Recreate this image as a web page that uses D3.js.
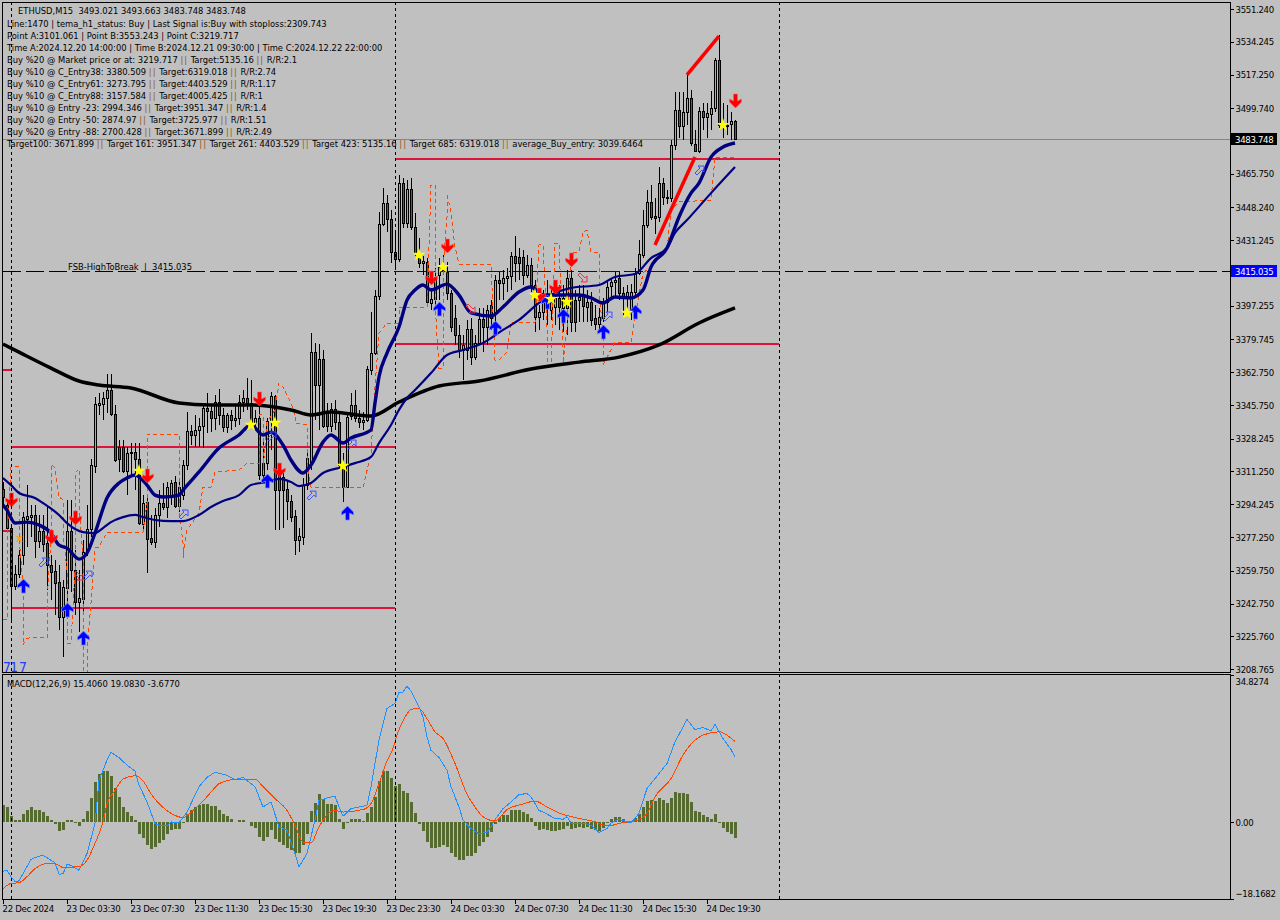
<!DOCTYPE html>
<html>
<head>
<meta charset="utf-8">
<title>ETHUSD,M15</title>
<script src="https://cdn.jsdelivr.net/npm/d3@7"></script>
<style>
  html, body { margin: 0; padding: 0; background: #c0c0c0; }
  svg { display: block; }
  text { font-family: "DejaVu Sans Condensed", "DejaVu Sans", sans-serif; font-size: 9.3px; fill: #000; }
  .axis path { display: none; }
  .axis line { stroke: #000; shape-rendering: crispEdges; }
  .axis text, .tag { font-size: 9.5px; letter-spacing: -0.3px; }
  .axis text { fill: #000; }
</style>
</head>
<body>
<div id="chart"></div>
<script>
// Candles, one entry per M15 bar (index 0 = 22 Dec 2024)
const opens = [
  3302.2,3293.9,3281.9,3251.8,3258.0,3267.9,3286.6,3287.6,3288.7,3275.2,
  3280.4,3274.1,3262.7,3259.6,3253.9,3235.7,3250.8,3280.4,3260.1,3243.5,
  3245.1,3269.5,3281.4,3314.1,3345.8,3346.3,3349.4,3353.5,3341.1,3324.0,
  3324.0,3311.5,3321.4,3321.4,3317.7,3284.0,3295.4,3276.7,3274.6,3288.7,
  3294.9,3292.8,3298.0,3305.8,3293.3,3299.0,3314.6,3332.3,3330.2,3332.8,
  3334.8,3344.2,3342.6,3339.0,3347.3,3340.6,3334.3,3340.6,3338.0,3339.0,
  3347.3,3349.4,3346.8,3336.4,3339.0,3309.4,3315.6,3337.4,3350.4,3309.4,
  3308.4,3302.2,3295.9,3288.1,3275.7,3277.2,3304.2,3316.2,3373.2,3356.1,
  3369.6,3341.6,3334.8,3343.7,3336.9,3314.6,3303.2,3340.0,3345.8,3339.0,
  3336.9,3338.0,3363.9,3372.7,3402.3,3439.7,3450.6,3442.3,3425.1,3421.5,
  3460.9,3440.2,3457.8,3438.1,3424.6,3419.4,3419.9,3398.7,3400.7,3413.2,
  3415.8,3414.8,3403.9,3390.9,3382.1,3374.3,3374.3,3385.2,3370.6,3377.9,
  3390.4,3386.2,3397.6,3393.5,3410.6,3409.0,3411.6,3412.7,3423.1,3422.5,
  3422.5,3413.2,3418.4,3408.0,3391.4,3394.0,3402.8,3395.0,3396.6,3401.3,
  3396.1,3396.1,3411.6,3400.2,3400.2,3402.3,3396.6,3399.2,3390.9,3387.8,
  3390.9,3399.2,3407.5,3409.6,3411.6,3403.9,3401.8,3395.0,3404.4,3414.2,
  3423.6,3439.1,3451.1,3443.8,3443.3,3460.9,3453.2,3453.2,3480.7,3498.8,
  3490.5,3497.8,3505.0,3481.2,3477.5,3498.3,3495.2,3496.7,3499.9,3524.8,
  3491.0,3491.0,3491.6,3493.021
];
const highs = [
  3305.8,3296.5,3283.5,3262.7,3270.5,3290.2,3304.2,3293.9,3293.9,3288.7,
  3288.7,3293.9,3267.9,3265.3,3262.7,3254.9,3296.5,3296.5,3270.5,3260.1,
  3275.7,3293.9,3317.7,3349.9,3352.0,3352.5,3361.8,3361.8,3345.8,3327.6,
  3327.6,3324.0,3326.0,3326.0,3326.0,3299.0,3299.0,3288.7,3292.3,3301.6,
  3305.3,3305.8,3306.8,3308.9,3306.8,3317.2,3342.1,3335.4,3340.6,3339.0,
  3345.8,3352.0,3345.8,3351.0,3354.0,3344.2,3341.6,3343.2,3345.8,3351.0,
  3353.5,3359.8,3358.7,3343.2,3348.3,3327.6,3339.0,3352.5,3351.0,3314.6,
  3312.0,3306.8,3299.0,3291.3,3281.9,3307.9,3321.4,3383.1,3377.9,3377.4,
  3374.3,3346.8,3346.8,3348.3,3342.1,3320.8,3342.1,3352.0,3353.5,3343.2,
  3342.1,3366.0,3394.0,3405.4,3445.9,3458.3,3454.7,3446.9,3435.0,3465.1,
  3463.5,3462.5,3463.5,3445.4,3432.4,3423.1,3422.0,3406.5,3416.8,3422.0,
  3423.6,3419.9,3405.4,3397.6,3387.3,3382.1,3389.9,3390.9,3382.1,3396.1,
  3396.1,3397.6,3400.2,3413.2,3414.8,3415.8,3416.8,3425.1,3433.4,3427.2,
  3426.2,3423.6,3422.0,3410.6,3397.6,3405.4,3410.6,3406.5,3408.0,3408.0,
  3408.0,3415.8,3415.8,3405.4,3408.0,3408.0,3405.4,3404.4,3397.6,3396.1,
  3401.3,3409.6,3411.6,3414.8,3414.8,3407.0,3408.0,3408.5,3416.8,3431.4,
  3446.9,3457.3,3459.9,3453.2,3469.2,3463.5,3457.3,3483.2,3508.2,3508.2,
  3508.2,3517.0,3509.2,3488.4,3500.4,3502.4,3502.4,3508.7,3525.8,3537.7,
  3502.4,3501.4,3497.8,3493.663
];
const lows = [
  3293.9,3279.3,3233.2,3249.8,3256.0,3262.7,3272.1,3277.2,3266.4,3271.5,
  3269.5,3249.8,3244.6,3236.8,3229.0,3215.0,3235.7,3248.7,3236.8,3227.9,
  3236.8,3267.4,3277.2,3310.5,3340.6,3338.0,3341.6,3340.0,3316.2,3311.0,
  3310.5,3299.0,3309.4,3301.6,3283.5,3280.9,3258.6,3273.1,3271.5,3282.4,
  3291.3,3287.1,3293.9,3292.3,3290.2,3296.5,3312.0,3325.0,3324.0,3324.0,
  3323.4,3331.2,3331.7,3332.8,3335.4,3331.7,3331.2,3332.8,3334.3,3335.4,
  3342.1,3343.2,3333.8,3332.8,3306.8,3305.8,3312.0,3322.4,3280.9,3280.9,
  3281.9,3286.1,3285.0,3267.9,3269.5,3273.1,3301.6,3312.0,3338.0,3332.8,
  3333.8,3331.7,3331.7,3332.8,3313.1,3295.4,3302.7,3338.0,3336.9,3333.8,
  3332.8,3336.9,3361.3,3371.7,3400.2,3438.6,3435.5,3419.4,3415.8,3419.9,
  3437.6,3437.6,3436.6,3423.1,3416.8,3413.2,3397.6,3395.0,3395.0,3400.2,
  3413.2,3400.2,3383.6,3376.9,3370.1,3358.7,3369.1,3366.5,3369.1,3376.9,
  3373.2,3376.9,3384.7,3385.7,3400.2,3400.2,3404.4,3405.4,3409.6,3410.6,
  3408.0,3411.6,3404.4,3383.6,3384.7,3389.9,3387.3,3389.9,3387.3,3384.7,
  3383.6,3382.1,3383.6,3383.6,3388.8,3388.8,3388.8,3386.7,3384.7,3384.7,
  3388.8,3394.0,3401.3,3402.3,3400.2,3392.4,3394.0,3389.9,3401.3,3413.2,
  3422.0,3437.6,3441.7,3434.5,3440.7,3449.5,3450.1,3451.1,3478.1,3484.3,
  3483.2,3491.0,3480.1,3477.0,3476.5,3488.4,3484.3,3488.4,3497.8,3489.5,
  3484.3,3485.8,3483.2,3483.748
];
const closes = [
  3298.0,3281.9,3251.8,3258.0,3267.9,3287.6,3288.1,3288.7,3275.2,3280.4,
  3273.6,3262.7,3259.1,3253.4,3235.7,3251.3,3280.4,3260.1,3243.5,3245.6,
  3269.5,3281.4,3314.6,3346.3,3346.8,3349.4,3353.5,3341.1,3317.2,3317.7,
  3311.5,3320.8,3320.8,3317.7,3284.5,3294.9,3276.2,3274.6,3288.7,3294.9,
  3292.8,3303.2,3305.3,3293.3,3303.2,3314.6,3332.3,3330.2,3332.8,3334.8,
  3344.2,3342.6,3339.0,3347.3,3340.6,3334.3,3340.6,3338.0,3339.0,3347.3,
  3349.4,3346.8,3336.4,3339.0,3309.4,3315.6,3337.4,3350.4,3301.6,3301.6,
  3301.6,3295.9,3287.6,3275.7,3277.8,3304.2,3318.2,3373.2,3356.1,3369.6,
  3334.8,3334.8,3343.7,3336.9,3314.6,3303.2,3339.5,3345.8,3339.0,3336.9,
  3338.0,3364.4,3372.7,3402.3,3439.7,3450.6,3442.3,3425.1,3421.5,3460.9,
  3440.2,3457.8,3438.1,3424.6,3419.4,3420.5,3399.2,3400.7,3412.2,3417.3,
  3417.3,3403.9,3386.2,3382.1,3374.3,3376.9,3385.2,3370.6,3377.9,3390.4,
  3386.2,3395.0,3390.9,3410.6,3409.0,3411.6,3412.7,3423.1,3419.4,3419.4,
  3413.2,3418.4,3408.0,3391.4,3394.0,3400.2,3399.2,3402.3,3401.3,3396.6,
  3401.3,3411.6,3388.8,3388.8,3401.8,3397.1,3399.2,3389.9,3387.8,3391.4,
  3399.2,3407.0,3409.6,3410.6,3403.9,3401.8,3404.4,3404.4,3414.2,3424.1,
  3439.1,3451.1,3443.3,3442.8,3460.9,3453.7,3453.7,3480.7,3498.8,3490.5,
  3497.8,3505.0,3481.7,3477.5,3498.3,3495.2,3497.3,3499.9,3524.8,3491.0,
  3490.0,3490.5,3493.1,3483.748
];

// Moving averages: bar index + price
const slowMaBars = [0,4,12,19,24,32,44,52,62,72,77,82,92,99,109,119,132,144,154,164,174,183];
const slowMaVals = [3377.4,3373.2,3364.9,3358.2,3356.1,3354.6,3346.8,3345.8,3345.8,3343.2,3340.6,3342.1,3340.0,3347.3,3355.6,3358.2,3364.4,3368.0,3370.6,3376.9,3388.3,3396.1];

const fastBars = [0,1,3,6,9,12,14,16,19,21,23,26,29,31,33,36,38,40,44,45,49,54,59,62,65,67,70,72,75,77,80,82,85,87,92,93,94,96,99,101,103,105,107,111,114,117,122,125,129,132,135,139,144,147,150,153,157,160,162,166,169,172,174,177,180,183];
const fastVals = [3293.9,3291.2,3284.5,3285.0,3283.5,3279.3,3273.1,3271.5,3265.8,3268.9,3279.3,3297.5,3305.3,3307.9,3309.4,3304.2,3299.0,3298.0,3299.0,3301.6,3311.0,3323.4,3330.2,3335.4,3330.2,3331.7,3325.0,3317.2,3310.5,3314.6,3326.5,3330.2,3326.0,3328.6,3332.8,3346.8,3360.3,3372.7,3386.2,3400.2,3405.4,3408.0,3405.4,3408.5,3402.8,3393.5,3391.9,3396.6,3404.4,3407.0,3402.8,3402.8,3402.8,3401.3,3398.7,3401.8,3401.3,3405.4,3417.3,3427.2,3443.3,3455.7,3460.9,3474.4,3479.6,3481.7];

const midBars = [0,2,4,8,10,14,16,20,23,25,27,30,33,35,38,42,45,49,52,55,59,62,66,69,72,74,77,80,85,88,92,94,97,99,101,103,107,111,115,120,125,129,134,137,142,149,153,158,162,166,168,171,177,183];
const midVals = [3307.9,3304.2,3300.1,3297.5,3294.9,3288.7,3284.5,3279.8,3279.3,3281.9,3285.0,3287.6,3288.7,3287.6,3286.1,3285.5,3285.5,3288.7,3292.8,3295.9,3299.0,3304.2,3305.8,3307.4,3305.8,3303.7,3305.3,3310.5,3313.6,3315.6,3318.8,3326.0,3335.4,3343.2,3349.4,3353.5,3362.3,3371.7,3374.3,3377.9,3384.7,3389.9,3398.7,3402.8,3406.5,3408.0,3412.2,3413.7,3422.0,3427.2,3435.0,3441.7,3455.7,3469.2];

// Orange stepped channel
const stepBars = [0,1,1,2,4,4,4,5,5,5,6,11,11,12,12,13,14,15,15,16,16,17,18,18,19,19,20,20,20,21,21,22,23,24,26,35,36,36,44,44,45,45,46,49,50,52,53,59,61,64,64,65,65,66,68,69,70,72,73,73,76,76,77,90,92,93,94,96,99,99,106,107,108,108,109,110,110,111,111,112,113,114,122,123,124,126,127,133,134,135,136,136,137,138,139,140,140,141,142,144,145,146,147,149,149,150,150,153,157,158,160,163,166,167,169,177,178,183];
const stepVals = [3234.2,3234.2,3277.2,3313.6,3313.6,3305.3,3277.2,3253.4,3235.7,3221.2,3224.8,3225.3,3243.0,3277.2,3315.1,3313.1,3298.0,3296.5,3279.3,3260.1,3222.2,3222.2,3260.1,3310.5,3312.5,3294.9,3266.9,3246.1,3207.2,3207.2,3217.1,3243.0,3271.5,3272.1,3279.8,3279.8,3294.9,3330.7,3330.7,3291.3,3274.1,3266.4,3280.9,3289.7,3303.2,3303.2,3311.0,3312.0,3315.6,3315.6,3340.6,3340.6,3312.0,3336.9,3343.2,3357.2,3355.1,3346.8,3340.6,3336.4,3335.4,3315.6,3303.2,3302.7,3320.8,3355.1,3383.1,3388.3,3388.3,3396.6,3396.6,3459.9,3459.9,3398.7,3364.9,3364.9,3415.8,3443.3,3455.7,3445.4,3427.7,3418.9,3418.9,3369.1,3369.1,3373.2,3388.8,3388.8,3428.8,3428.8,3384.7,3366.5,3366.5,3429.8,3429.8,3375.8,3367.5,3386.2,3425.1,3425.1,3435.5,3436.6,3425.1,3425.1,3407.0,3381.0,3366.5,3378.4,3378.4,3391.4,3414.2,3419.4,3426.2,3446.9,3451.1,3452.1,3474.4,3474.4];

// Horizontal levels
const levelPrices = [3240.2,3324.0,3377.4,3473.4];
const levelStartBars = [2,2,98,98];
const levelEndBars = [98,98,194,194];
const fsbLevel = 3415.035;
const lastPrice = 3483.748;

// Signal markers: bar index + price
const downBars = [2,12,18,36,64,69,107,111,134,138,142,183];
const downVals = [3296.5,3277.2,3287.1,3308.9,3348.9,3312.0,3411.6,3428.2,3402.8,3407.0,3421.0,3503.5];
const upBars = [5,16,20,66,86,109,123,136,140,150,158];
const upVals = [3251.8,3239.4,3224.8,3306.3,3289.7,3395.6,3385.7,3399.2,3391.9,3383.6,3394.0];
const starBars = [34,62,68,85,104,110,133,137,141,156,180];
const starVals = [3311.5,3335.4,3336.4,3314.1,3423.6,3417.3,3402.8,3400.7,3399.2,3393.5,3491.0];
const hollowUpBars = [10,21,45,67,77,87,151,174];
const hollowUpVals = [3264.3,3257.5,3289.2,3329.7,3299.0,3325.5,3391.9,3467.7];
const hollowDownBars = [19,117,145];
const hollowDownVals = [3257.5,3396.1,3412.2];
// Red trend strokes [bar, price] pairs
const trendBars = [[171,179],[163,173]];
const trendVals = [[3517.0,3537.2],[3428.8,3474.4]];

// MACD histogram, one per bar
const histogram = [
  4.0,3.5,1.5,0.5,0.5,1.9,2.8,3.5,2.8,2.8,2.3,1.4,0.6,-0.4,-2.1,-1.9,0.5,0.5,-0.2,-0.9,
  0.7,2.6,5.7,9.4,11.3,12.2,12.2,10.9,8.0,6.0,3.6,2.4,1.4,0.5,-2.7,-3.8,-5.4,-6.4,-5.8,-5.0,
  -4.1,-2.7,-1.9,-1.7,-1.7,-0.2,1.9,2.8,3.5,4.1,4.3,4.3,3.8,3.8,2.8,1.9,1.4,0.8,0.1,0.5,
  0.5,0.1,-0.8,-1.3,-3.5,-4.5,-3.5,-1.9,-4.0,-4.6,-5.4,-6.0,-6.5,-7.2,-7.2,-5.4,-2.8,2.6,4.6,6.6,
  5.6,4.4,4.4,4.0,0.7,-1.7,-0.2,0.7,0.7,0.7,0.3,2.2,3.5,6.0,9.7,12.0,12.0,10.4,8.6,9.0,
  7.3,6.8,4.8,2.2,-0.5,-2.1,-4.8,-6.1,-6.1,-5.8,-5.4,-5.8,-7.2,-8.3,-9.0,-9.0,-8.0,-8.0,-7.2,-5.6,
  -4.7,-3.5,-2.4,-0.5,1.0,1.7,1.8,2.8,3.0,3.0,2.3,1.9,0.9,-0.9,-1.9,-1.6,-1.9,-2.0,-2.0,-1.9,
  -1.7,-0.9,-1.6,-1.4,-1.1,-1.3,-1.1,-1.6,-1.9,-2.0,-1.3,-0.2,0.7,1.2,1.2,0.7,0.3,0.1,0.9,1.9,
  3.5,5.0,5.2,5.0,5.7,5.2,4.6,5.7,7.1,6.9,6.9,6.6,4.7,2.6,2.4,1.7,1.2,0.7,1.9,-0.2,
  -1.3,-2.2,-2.8,-3.677
];
const macdBars = [0,1,2,3,4,5,7,8,10,11,13,14,15,16,17,19,21,23,24,26,27,29,31,33,34,36,38,39,41,42,44,46,48,49,51,53,56,58,60,63,65,67,69,71,73,74,76,78,79,83,84,85,87,91,92,94,96,98,99,100,101,102,104,105,106,107,109,111,112,114,115,117,119,121,122,123,125,127,129,131,132,134,135,138,140,141,142,145,147,149,151,152,154,157,159,161,163,166,168,171,173,175,177,178,180,182,183];
const macdVals = [-11.6,-11.4,-12.9,-14.0,-13.9,-12.2,-8.8,-8.4,-7.8,-8.4,-9.6,-12.3,-12.2,-10.0,-10.2,-11.4,-7.4,-0.3,9.9,14.7,16.5,15.3,13.5,12.1,8.8,4.8,-0.3,-0.7,-0.9,0.1,-0.2,2.4,6.4,8.4,10.6,11.8,11.1,10.1,10.6,8.4,3.6,4.8,-1.1,-1.9,-7.4,-10.6,-7.4,0.5,5.2,6.2,3.6,1.4,3.2,4.0,8.4,19.4,26.9,28.1,30.8,30.8,32.2,31.0,27.3,24.9,20.2,17.0,15.3,12.3,8.4,3.6,0.5,-1.5,-2.8,-2.3,-1.1,0.6,3.2,4.8,6.5,6.8,6.0,2.8,2.4,0.9,0.7,1.3,-0.2,-0.2,-0.7,-2.4,-1.5,-0.2,0.7,-0.2,2.1,8.0,10.3,13.9,19.0,24.3,21.9,22.4,21.6,23.1,19.8,17.2,15.406];
const signalBars = [0,2,4,6,8,11,13,15,19,21,23,25,26,28,30,33,35,37,40,42,45,47,49,52,54,58,63,65,68,71,73,75,77,79,81,83,85,90,92,94,96,97,99,101,102,104,106,108,110,113,116,118,120,123,126,130,133,136,139,144,148,151,155,158,161,163,167,170,173,175,179,181,183];
const signalVals = [-15.7,-14.5,-14.3,-12.9,-11.0,-9.8,-9.8,-10.7,-10.5,-9.0,-5.0,0.1,4.3,7.5,10.2,11.0,9.8,6.7,3.5,2.1,1.1,2.4,4.0,7.1,9.1,10.1,10.2,8.4,5.6,2.8,-0.7,-4.7,-4.9,-1.1,1.7,2.8,2.4,3.0,4.4,9.1,14.5,16.3,21.9,25.6,26.7,26.9,24.5,21.4,19.8,13.9,6.6,3.6,1.3,0.3,3.0,4.3,5.0,3.6,2.2,0.9,0.1,-0.9,-0.1,0.3,2.1,6.0,10.3,15.9,19.4,20.6,21.4,20.6,19.083];

// Axis labels
const priceTicks = [3551.24,3534.245,3517.25,3499.74,3482.745,3465.75,3448.24,3431.245,3414.25,3397.255,3379.745,3362.75,3345.75,3328.245,3311.25,3294.245,3277.25,3259.75,3242.75,3225.76,3208.765];
const timeTickBars = [0,16,32,48,64,80,96,112,128,144,160,176];
const timeTickLabels = ['22 Dec 2024','23 Dec 03:30','23 Dec 07:30','23 Dec 11:30','23 Dec 15:30','23 Dec 19:30','23 Dec 23:30','24 Dec 03:30','24 Dec 07:30','24 Dec 11:30','24 Dec 15:30','24 Dec 19:30'];
const macdTicks = [34.8274,0,-18.1682];
const sessionBars = [2,98,194];

const infoLines = [
  'ETHUSD,M15  3493.021 3493.663 3483.748 3483.748',
  'Line:1470 | tema_h1_status: Buy | Last Signal is:Buy with stoploss:2309.743',
  'Point A:3101.061 | Point B:3553.243 | Point C:3219.717',
  'Time A:2024.12.20 14:00:00 | Time B:2024.12.21 09:30:00 | Time C:2024.12.22 22:00:00',
  'Buy %20 @ Market price or at: 3219.717 || Target:5135.16 || R/R:2.1',
  'Buy %10 @ C_Entry38: 3380.509 || Target:6319.018 || R/R:2.74',
  'Buy %10 @ C_Entry61: 3273.795 || Target:4403.529 || R/R:1.17',
  'Buy %10 @ C_Entry88: 3157.584 || Target:4005.425 || R/R:1',
  'Buy %10 @ Entry -23: 2994.346 || Target:3951.347 || R/R:1.4',
  'Buy %20 @ Entry -50: 2874.97 || Target:3725.977 || R/R:1.51',
  'Buy %20 @ Entry -88: 2700.428 || Target:3671.899 || R/R:2.49',
  'Target100: 3671.899 || Target 161: 3951.347 || Target 261: 4403.529 || Target 423: 5135.16 || Target 685: 6319.018 || average_Buy_entry: 3039.6464'
];

const width = 1280, height = 920;
const frameRight = 1230;
const mainTop = 2, mainBottom = 672, macdTop = 675, macdBottom = 899;

const svg = d3.select('#chart').append('svg').attr('width', width).attr('height', height);

const x = d3.scaleLinear().domain([0, 183]).range([3, 735]);
const y = d3.scaleLinear().domain([3208.765, 3551.24]).range([669, 9]);
const yMacd = d3.scaleLinear().domain([-18.1682, 34.8274]).range([macdBottom, macdTop]);

svg.append('defs').append('clipPath').attr('id', 'mainClip').append('rect')
    .attr('x', 3).attr('y', mainTop + 1).attr('width', frameRight - 3).attr('height', mainBottom - mainTop - 1);

const main = svg.append('g').attr('clip-path', 'url(#mainClip)');
const crisp = sel => sel.attr('shape-rendering', 'crispEdges');

// Levels under the candles
main.append('line').call(crisp)
    .attr('x1', 3).attr('x2', frameRight).attr('y1', y(lastPrice)).attr('y2', y(lastPrice))
    .attr('stroke', '#778899');
main.append('line').call(crisp)
    .attr('x1', 3).attr('x2', frameRight).attr('y1', y(fsbLevel)).attr('y2', y(fsbLevel))
    .attr('stroke', '#000').attr('stroke-dasharray', '18,5');
main.append('line').call(crisp)
    .attr('x1', 395).attr('x2', 779).attr('y1', y(fsbLevel)).attr('y2', y(fsbLevel))
    .attr('stroke', '#0000cd').attr('stroke-dasharray', '18,5');

main.selectAll('.level').data(levelPrices).join('line').call(crisp)
    .attr('class', 'level')
    .attr('x1', (d, i) => x(levelStartBars[i])).attr('x2', (d, i) => x(levelEndBars[i]))
    .attr('y1', d => y(d)).attr('y2', d => y(d))
    .attr('stroke', '#dc143c').attr('stroke-width', 2);
// the short stubs left of the first session line
main.selectAll('.stub').data([3364.0, 3280.4]).join('line').call(crisp)
    .attr('class', 'stub')
    .attr('x1', x(0)).attr('x2', x(2)).attr('y1', d => y(d)).attr('y2', d => y(d))
    .attr('stroke', '#dc143c').attr('stroke-width', 2);

// Candles: wick, black body, coloured core
const bars = d3.range(opens.length);
const bodyTop = d => Math.round(y(Math.max(opens[d], closes[d])));
const bodyHeight = d => Math.max(1, Math.round(Math.abs(y(opens[d]) - y(closes[d]))) + 1);
main.selectAll('.wick').data(bars).join('rect').call(crisp)
    .attr('class', 'wick')
    .attr('x', d => x(d)).attr('width', 1)
    .attr('y', d => y(highs[d])).attr('height', d => y(lows[d]) - y(highs[d]))
    .attr('fill', '#000');
main.selectAll('.body').data(bars).join('rect').call(crisp)
    .attr('class', 'body')
    .attr('x', d => x(d) - 1).attr('width', 3)
    .attr('y', bodyTop).attr('height', bodyHeight)
    .attr('fill', '#000');
main.selectAll('.core').data(bars.filter(d => bodyHeight(d) > 2)).join('rect').call(crisp)
    .attr('class', 'core')
    .attr('x', d => x(d)).attr('width', 1)
    .attr('y', d => bodyTop(d) + 1).attr('height', d => bodyHeight(d) - 2)
    .attr('fill', d => closes[d] >= opens[d] ? '#2bf08f' : '#e8183f');

// Indicator lines
const priceLine = d3.line().x(d => x(d[0])).y(d => y(d[1]));
const smoothLine = d3.line().x(d => x(d[0])).y(d => y(d[1])).curve(d3.curveMonotoneX);
const zipped = (a, b) => a.map((v, i) => [v, b[i]]);
main.append('path').call(crisp).attr('d', priceLine(zipped(stepBars, stepVals)))
    .attr('fill', 'none').attr('stroke', '#ff4500').attr('stroke-dasharray', '4,3');
main.append('path').attr('d', smoothLine(zipped(slowMaBars, slowMaVals)))
    .attr('fill', 'none').attr('stroke', '#000').attr('stroke-width', 3.5);
main.append('path').attr('d', smoothLine(zipped(midBars, midVals)))
    .attr('fill', 'none').attr('stroke', '#000080').attr('stroke-width', 2.2);
main.append('path').attr('d', smoothLine(zipped(fastBars, fastVals)))
    .attr('fill', 'none').attr('stroke', '#000080').attr('stroke-width', 3.4);

// Red trend strokes
main.selectAll('.trend').data(trendBars).join('line')
    .attr('class', 'trend')
    .attr('x1', d => x(d[0])).attr('x2', d => x(d[1]))
    .attr('y1', (d, i) => y(trendVals[i][0])).attr('y2', (d, i) => y(trendVals[i][1]))
    .attr('stroke', '#ff0000').attr('stroke-width', 3.5);

// Markers
const arrowDown = 'M-2,-7H2V0L6,-2V1L0,7L-6,1V-2L-2,0Z';
const arrowUp = 'M-2,7H2V0L6,2V-1L0,-7L-6,-1V2L-2,0Z';
const hollow = 'M-4,3L1,-2L-1,-4H5V2L3,0L-2,5Z';

main.selectAll('.down').data(downBars).join('path').attr('class', 'down')
    .attr('transform', (d, i) => `translate(${x(d) + 0.5},${y(downVals[i])})`)
    .attr('d', arrowDown).attr('fill', '#ff0000').attr('stroke', '#ff6060').attr('stroke-width', 0.6);
main.selectAll('.up').data(upBars).join('path').attr('class', 'up')
    .attr('transform', (d, i) => `translate(${x(d) + 0.5},${y(upVals[i])})`)
    .attr('d', arrowUp).attr('fill', '#0000ff').attr('stroke', '#6a8cff').attr('stroke-width', 0.8);
main.selectAll('.hollowUp').data(hollowUpBars).join('path').attr('class', 'hollowUp')
    .attr('transform', (d, i) => `translate(${x(d)},${y(hollowUpVals[i])})`)
    .attr('d', hollow).attr('fill', 'none').attr('stroke', '#3a50ff');
main.selectAll('.hollowDown').data(hollowDownBars).join('path').attr('class', 'hollowDown')
    .attr('transform', (d, i) => `translate(${x(d)},${y(hollowDownVals[i])}) rotate(90)`)
    .attr('d', hollow).attr('fill', 'none').attr('stroke', '#e8304a');
main.selectAll('.star').data(starBars).join('path').attr('class', 'star')
    .attr('transform', (d, i) => `translate(${x(d)},${y(starVals[i])})`)
    .attr('d', d3.symbol(d3.symbolStar, 55)).attr('fill', '#ffff00');
// orange cross near the start
main.append('text').attr('x', x(4) + 0.5).attr('y', y(3276.7) + 4)
    .attr('text-anchor', 'middle').style('fill', '#ffa500').style('font-size', '11px').style('font-weight', 'bold').text('x');

// Texts inside the main pane
const infoY = [10, 23, 35, 47, 59, 71, 83, 95, 107, 119, 131, 143];
const info = svg.append('g');
infoLines.forEach((line, i) => {
  const t = info.append('text').attr('x', i === 0 ? 18 : 7).attr('y', infoY[i] + 3.5).attr('xml:space', 'preserve');
  line.split('||').forEach((part, j) => {
    if (j > 0) t.append('tspan').style('fill', '#8a5a14').style('letter-spacing', '1px').text('||');
    t.append('tspan').text(part);
  });
});
svg.append('text').attr('x', 68).attr('y', 269.5).attr('xml:space', 'preserve').text('FSB-HighToBreak  |  3415.035');
svg.append('text').attr('x', '3 8 10 15 19').attr('y', 672).style('fill', '#1a3cff').style('font-size', '14px')
    .attr('xml:space', 'preserve').text('7 1 7');

// MACD pane
const macd = svg.append('g');
macd.selectAll('.hist').data(histogram).join('rect').call(crisp)
    .attr('class', 'hist')
    .attr('x', (d, i) => x(i) - 1).attr('width', 3)
    .attr('y', d => Math.min(yMacd(d), yMacd(0)))
    .attr('height', d => Math.abs(yMacd(d) - yMacd(0)))
    .attr('fill', '#556b2f');
const macdLine = d3.line().x(d => x(d[0])).y(d => yMacd(d[1]));
const macdSmooth = d3.line().x(d => x(d[0])).y(d => yMacd(d[1])).curve(d3.curveMonotoneX);
macd.append('path').call(crisp).attr('d', macdLine(zipped(macdBars, macdVals)))
    .attr('fill', 'none').attr('stroke', '#1e90ff');
macd.append('path').call(crisp).attr('d', macdSmooth(zipped(signalBars, signalVals)))
    .attr('fill', 'none').attr('stroke', '#ff4500');
macd.append('text').attr('x', 7).attr('y', 686.5).text('MACD(12,26,9) 15.4060 19.0830 -3.6770');

// Session separators through both panes
svg.selectAll('.session').data(sessionBars).join('line').call(crisp)
    .attr('class', 'session')
    .attr('x1', d => x(d) + 0.5).attr('x2', d => x(d) + 0.5)
    .attr('y1', mainTop).attr('y2', macdBottom)
    .attr('stroke', '#000').attr('stroke-dasharray', '3,3');

// Frame
const frame = svg.append('g').call(crisp).attr('fill', 'none').attr('stroke', '#000');
frame.append('rect').attr('x', 2.5).attr('y', mainTop + 0.5).attr('width', frameRight - 2).attr('height', mainBottom - mainTop);
frame.append('rect').attr('x', 2.5).attr('y', macdTop - 0.5).attr('width', frameRight - 2).attr('height', macdBottom - macdTop + 0.5);

// Axes
const priceAxis = d3.axisRight(y).tickValues(priceTicks).tickSize(3).tickPadding(2)
    .tickFormat(d3.format('.3f'));
svg.append('g').attr('class', 'axis').attr('transform', `translate(${frameRight + 0.5},0)`).call(priceAxis);

const macdAxis = d3.axisRight(yMacd).tickValues(macdTicks).tickSize(3).tickPadding(2)
    .tickFormat(d => d === 0 ? '0.00' : d3.format('.4f')(d));
const macdAxisG = svg.append('g').attr('class', 'axis').attr('transform', `translate(${frameRight + 0.5},0)`).call(macdAxis);
macdAxisG.selectAll('.tick text').attr('dy', d => d > 1 ? '1em' : (d < -1 ? '-0.3em' : '0.32em'));

const timeAxis = d3.axisBottom(x).tickValues(timeTickBars).tickSize(4).tickPadding(2)
    .tickFormat((d, i) => timeTickLabels[i]);
const timeAxisG = svg.append('g').attr('class', 'axis').attr('transform', `translate(0,${macdBottom + 0.5})`).call(timeAxis);
timeAxisG.selectAll('.tick text').attr('text-anchor', 'start').attr('x', -1);

// Current price tags on the price axis
const tags = svg.append('g');
[[lastPrice, '#000'], [fsbLevel, '#0000ff']].forEach(([p, colour]) => {
  tags.append('rect').call(crisp).attr('x', frameRight + 1).attr('y', y(p) - 6).attr('width', 46).attr('height', 12).attr('fill', colour);
  tags.append('text').attr('class', 'tag').attr('x', frameRight + 5).attr('y', y(p) + 3.5).style('fill', '#fff').text(d3.format('.3f')(p));
});
</script>
</body>
</html>
